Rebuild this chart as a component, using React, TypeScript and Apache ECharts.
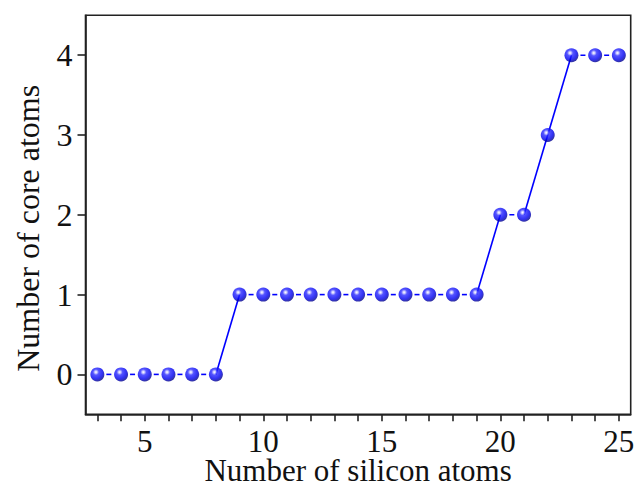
import React, { useEffect, useRef } from "react";
import * as echarts from "echarts";

const siliconAtoms = [3, 4, 5, 6, 7, 8, 9, 10, 11, 12, 13, 14, 15, 16, 17, 18, 19, 20, 21, 22, 23, 24, 25];
const coreAtoms = [0, 0, 0, 0, 0, 0, 1, 1, 1, 1, 1, 1, 1, 1, 1, 1, 1, 2, 2, 3, 4, 4, 4];
const xTickValues = [3, 4, 5, 6, 7, 8, 9, 10, 11, 12, 13, 14, 15, 16, 17, 18, 19, 20, 21, 22, 23, 24, 25];
const xLabelValues = [5, 10, 15, 20, 25];
const yTickValues = [0, 1, 2, 3, 4];

const FONT = "'Liberation Serif', 'Times New Roman', serif";

export default function App() {
  const ref = useRef<HTMLDivElement>(null);
  useEffect(() => {
    if (!ref.current) return;
    const chart = echarts.init(ref.current, null, { renderer: "svg" });
    const pxPerUnit = (636 - 85.5 - 5.3) / 23;
    const dashLen = 5;
    const segSeries: any[] = [];
    for (let i = 0; i < siliconAtoms.length - 1; i++) {
      const flat = coreAtoms[i] === coreAtoms[i + 1];
      segSeries.push({
        type: "line",
        data: [
          [siliconAtoms[i], coreAtoms[i]],
          [siliconAtoms[i + 1], coreAtoms[i + 1]],
        ],
        symbol: "none",
        silent: true,
        z: 1,
        lineStyle: flat
          ? {
              color: "#0000ff",
              width: 1.6,
              type: [dashLen, 60],
              dashOffset: -(pxPerUnit / 2 - dashLen / 2),
            }
          : { color: "#0000ff", width: 1.6, type: "solid" },
      });
    }
    const sphere = new echarts.graphic.RadialGradient(0.4, 0.34, 0.66, [
      { offset: 0, color: "#ffffff" },
      { offset: 0.12, color: "#c4c4ff" },
      { offset: 0.32, color: "#2a2aff" },
      { offset: 0.7, color: "#0000f0" },
      { offset: 1, color: "#00008c" },
    ]);
    chart.setOption({
      animation: false,
      backgroundColor: "#ffffff",
      grid: {
        left: 85.5,
        right: 5.3,
        top: 15.3,
        bottom: 73.7,
        containLabel: false,
        outerBoundsMode: "none",
        show: true,
        borderColor: "#222222",
        borderWidth: 1.6,
        backgroundColor: "transparent",
      },
      xAxis: {
        type: "value",
        min: 2.5,
        max: 25.5,
        name: "Number of silicon atoms",
        nameLocation: "middle",
        nameGap: 41,
        nameMoveOverlap: false,
        nameTextStyle: { fontFamily: FONT, fontSize: 31, color: "#111" },
        axisLine: { show: true, onZero: false, lineStyle: { color: "#222222", width: 1.6 } },
        axisTick: {
          show: true,
          inside: false,
          length: 7,
          customValues: xTickValues,
          lineStyle: { color: "#222222", width: 1.6 },
        },
        axisLabel: {
          customValues: xLabelValues,
          fontFamily: FONT,
          fontSize: 31,
          lineHeight: 26,
          color: "#111",
          margin: 14,
        },
        splitLine: { show: false },
      },
      yAxis: {
        type: "value",
        min: -0.5,
        max: 4.5,
        name: "Number of core atoms",
        nameLocation: "middle",
        nameGap: 45,
        nameMoveOverlap: false,
        nameTextStyle: {
          fontFamily: FONT,
          fontSize: 32,
          lineHeight: 26,
          color: "#111",
          padding: [0, 27, 0, 0],
        },
        axisLine: { show: true, onZero: false, lineStyle: { color: "#222222", width: 1.6 } },
        axisTick: {
          show: true,
          inside: false,
          length: 8,
          customValues: yTickValues,
          lineStyle: { color: "#222222", width: 1.6 },
        },
        axisLabel: {
          customValues: yTickValues,
          fontFamily: FONT,
          fontSize: 32,
          color: "#111",
          margin: 13,
        },
        splitLine: { show: false },
      },
      series: [
        ...segSeries,
        {
          type: "scatter",
          data: siliconAtoms.map((x, i) => [x, coreAtoms[i]]),
          symbol: "circle",
          symbolSize: 14,
          z: 3,
          itemStyle: { color: sphere },
        },
      ],
    });
    return () => chart.dispose();
  }, []);
  return <div ref={ref} style={{ width: 636, height: 488, position: "absolute", left: 0, top: 0 }} />;
}
